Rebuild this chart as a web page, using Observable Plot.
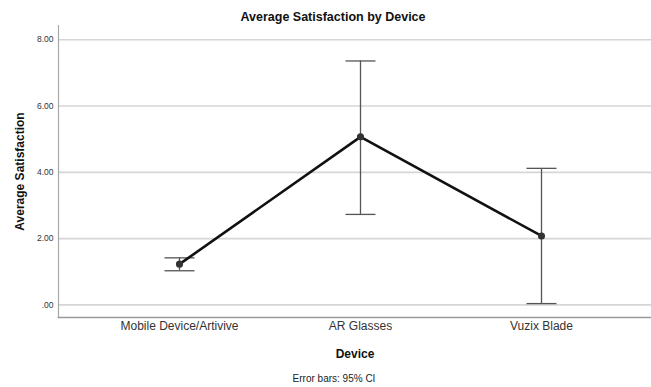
<!DOCTYPE html>
<html>
<head>
<meta charset="utf-8">
<script src="https://cdn.jsdelivr.net/npm/d3@7"></script>
<script src="https://cdn.jsdelivr.net/npm/@observablehq/plot@0.6"></script>
<style>
  html, body { margin: 0; padding: 0; background: #fff; }
  #wrap { position: relative; width: 651px; height: 387px; font-family: "Liberation Sans", Arial, sans-serif; }
  #title { position: absolute; left: 0; width: 666px; top: 10px; text-align: center; font-size: 12.5px; font-weight: bold; color: #111; }
  #caption { position: absolute; left: 0; width: 668px; top: 373px; text-align: center; font-size: 10px; color: #222; }
  #chart svg { display: block; }
</style>
</head>
<body>
<div id="wrap">
  <div id="chart"></div>
  <div id="title">Average Satisfaction by Device</div>
  <div id="caption">Error bars: 95% CI</div>
</div>
<script>
const devices = ["Mobile Device/Artivive", "AR Glasses", "Vuzix Blade"];
const means = [1.23, 5.07, 2.08];
const ciLow = [1.03, 2.73, 0.04];
const ciHigh = [1.42, 7.36, 4.12];
const yTicks = [0, 2, 4, 6, 8];
const yDomain = [-0.38, 8.43];

const data = devices.map((d, i) => ({device: d, mean: means[i], lo: ciLow[i], hi: ciHigh[i]}));
const fmt = d => d === 0 ? ".00" : d.toFixed(2);

// horizontal cap symbol for error bars (half-width = r)
const capSymbol = {
  draw(context, size) {
    const w = Math.sqrt(size / Math.PI);
    context.moveTo(-w, 0);
    context.lineTo(w, 0);
  }
};

const plot = Plot.plot({
  width: 651,
  height: 387,
  marginLeft: 58,
  marginRight: 0,
  marginTop: 25,
  marginBottom: 70,
  style: {fontFamily: "'Liberation Sans', Arial, sans-serif", background: "#fff"},
  x: {type: "point", domain: devices, range: [178, 541], padding: 0, label: null},
  y: {domain: yDomain, label: null},
  marks: [
    Plot.ruleY(yTicks, {stroke: "#d6d6d6", strokeWidth: 1.6}),
    Plot.frame({anchor: "left", stroke: "#a8a8a8", strokeWidth: 1.2}),
    Plot.frame({anchor: "bottom", stroke: "#9a9a9a", strokeWidth: 1.6}),
    Plot.axisY(yTicks, {tickSize: 0, tickPadding: 5, tickFormat: fmt, fontSize: 8.5, fill: "#333", label: null}),
    Plot.axisX({tickSize: 0, tickPadding: 4, fontSize: 12, fill: "#333", label: null}),
    Plot.ruleX(data, {x: "device", y1: "lo", y2: "hi", stroke: "#555", strokeWidth: 1.3}),
    Plot.dot(data, {x: "device", y: "lo", symbol: capSymbol, r: 15, fill: "none", stroke: "#555", strokeWidth: 1.3}),
    Plot.dot(data, {x: "device", y: "hi", symbol: capSymbol, r: 15, fill: "none", stroke: "#555", strokeWidth: 1.3}),
    Plot.line(data, {x: "device", y: "mean", stroke: "#111", strokeWidth: 2.6}),
    Plot.dot(data, {x: "device", y: "mean", r: 2.8, fill: "#333", stroke: "#333"}),
    Plot.text(["Average Satisfaction"], {frameAnchor: "left", textAnchor: "middle", dx: -38, rotate: -90, fontSize: 12, fontWeight: "bold", fill: "#111"}),
    Plot.text(["Device"], {frameAnchor: "bottom", dy: 40, fontSize: 12, fontWeight: "bold", fill: "#111"})
  ]
});
document.getElementById("chart").appendChild(plot);
</script>
</body>
</html>
